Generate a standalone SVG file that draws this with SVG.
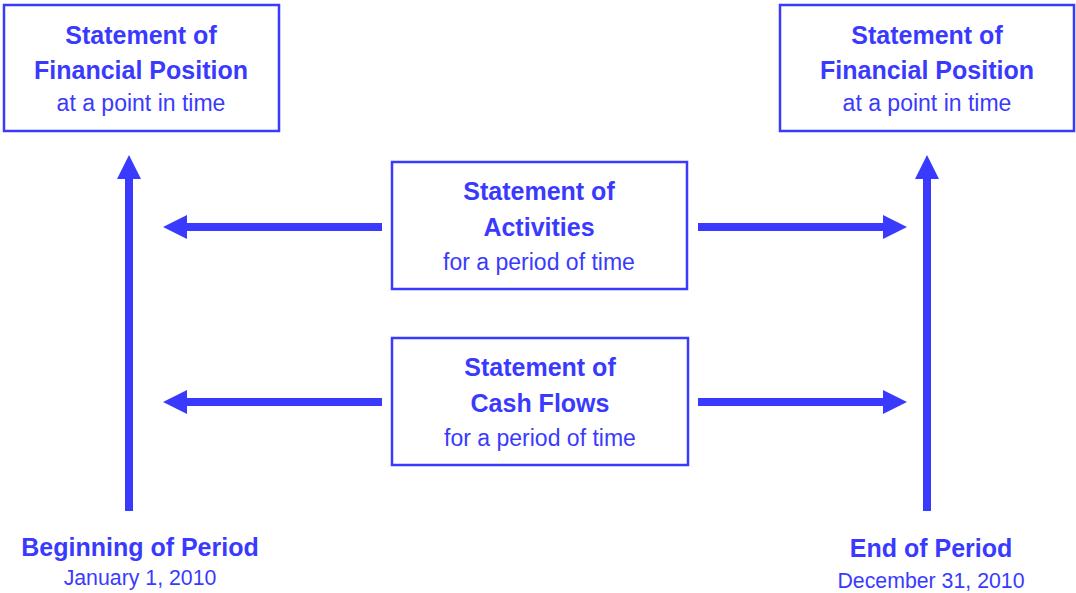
<svg xmlns="http://www.w3.org/2000/svg" width="1076" height="593" viewBox="0 0 1076 593">
<style>
.box{fill:#fff;stroke:#3a3aff;stroke-width:2.5}
.b{font-family:"Liberation Sans",Arial,sans-serif;font-weight:bold;font-size:25px;fill:#3a3aff;text-anchor:middle}
.r{font-family:"Liberation Sans",Arial,sans-serif;font-size:23px;fill:#3a3aff;text-anchor:middle}
.d{font-family:"Liberation Sans",Arial,sans-serif;font-size:21.3px;fill:#3a3aff;text-anchor:middle}
.sh{stroke:#3a3aff;stroke-width:8;fill:none}
.hd{fill:#3a3aff}
</style>
<g id="connectors">
<line class="sh" x1="129" y1="511" x2="129" y2="176"/><polygon class="hd" points="129,155 141,179 117,179"/>
<line class="sh" x1="927" y1="511" x2="927" y2="176"/><polygon class="hd" points="927,155 939,179 915,179"/>
<line class="sh" x1="382" y1="227" x2="184" y2="227"/><polygon class="hd" points="163,227 187,215 187,239"/>
<line class="sh" x1="698" y1="227" x2="886" y2="227"/><polygon class="hd" points="907,227 883,215 883,239"/>
<line class="sh" x1="382" y1="402" x2="184" y2="402"/><polygon class="hd" points="163,402 187,390 187,414"/>
<line class="sh" x1="698" y1="402" x2="886" y2="402"/><polygon class="hd" points="907,402 883,390 883,414"/>
</g>
<g id="sfp-begin">
<rect class="box" x="4" y="5" width="275" height="126"/>
<text class="b" x="141" y="44">Statement of</text>
<text class="b" x="141" y="79">Financial Position</text>
<text class="r" x="141" y="111">at a point in time</text>
</g>
<g id="sfp-end">
<rect class="box" x="780" y="5" width="294" height="126"/>
<text class="b" x="927" y="44">Statement of</text>
<text class="b" x="927" y="79">Financial Position</text>
<text class="r" x="927" y="111">at a point in time</text>
</g>
<g id="activities">
<rect class="box" x="392" y="162" width="295" height="127"/>
<text class="b" x="539" y="200">Statement of</text>
<text class="b" x="539" y="236">Activities</text>
<text class="r" x="539" y="270">for a period of time</text>
</g>
<g id="cashflows">
<rect class="box" x="392" y="338" width="296" height="127"/>
<text class="b" x="540" y="376">Statement of</text>
<text class="b" x="540" y="412">Cash Flows</text>
<text class="r" x="540" y="446">for a period of time</text>
</g>
<g id="begin">
<text class="b" x="140" y="556">Beginning of Period</text>
<text class="d" x="140" y="585">January 1, 2010</text>
</g>
<g id="end">
<text class="b" x="931" y="557">End of Period</text>
<text class="d" x="931" y="588">December 31, 2010</text>
</g>
</svg>
